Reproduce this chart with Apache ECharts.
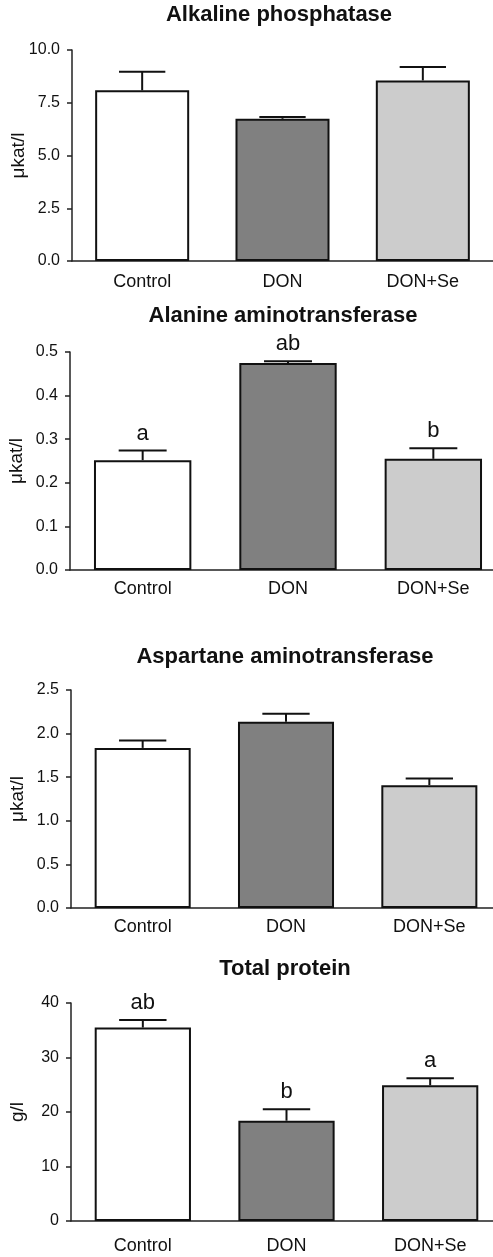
<!DOCTYPE html>
<html>
<head>
<meta charset="utf-8">
<script src="https://cdn.jsdelivr.net/npm/echarts@6/dist/echarts.min.js"></script>
<style>
html,body{margin:0;padding:0;background:#fff;}
#chart{width:493px;height:1257px;}
</style>
</head>
<body>
<div id="chart"></div>
<script>
var categories = ['Control', 'DON', 'DON+Se'];
var barColors = ['#ffffff', '#808080', '#cccccc'];

var titles = ['Alkaline phosphatase', 'Alanine aminotransferase', 'Aspartane aminotransferase', 'Total protein'];
var yNames = ['\u03bckat/l', '\u03bckat/l', '\u03bckat/l', 'g/l'];

var alpMean = [8.09, 6.74, 8.56];
var alpErr = [0.88, 0.08, 0.63];
var altMean = [0.252, 0.475, 0.255];
var altErr = [0.022, 0.004, 0.024];
var astMean = [1.836, 2.137, 1.409];
var astErr = [0.085, 0.09, 0.077];
var tpMean = [35.5, 18.4, 24.9];
var tpErr = [1.4, 2.1, 1.3];

var alpLetters = ['', '', ''];
var altLetters = ['a', 'ab', 'b'];
var astLetters = ['', '', ''];
var tpLetters = ['ab', 'b', 'a'];

var yMax = [10, 0.5, 2.5, 40];
var yInterval = [2.5, 0.1, 0.5, 10];
var yDecimals = [1, 1, 1, 0];

var means = [alpMean, altMean, astMean, tpMean];
var errs = [alpErr, altErr, astErr, tpErr];
var letters = [alpLetters, altLetters, astLetters, tpLetters];

// layout
var grids = [
  {left: 72, top: 50, width: 421, height: 211, outerBoundsMode: 'none', containLabel: false},
  {left: 70, top: 352, width: 436, height: 218, outerBoundsMode: 'none', containLabel: false},
  {left: 71, top: 690, width: 430, height: 218, outerBoundsMode: 'none', containLabel: false},
  {left: 71, top: 1003, width: 431, height: 218, outerBoundsMode: 'none', containLabel: false}
];
var xLabelMargin = [12, 10, 10, 16];
var titlePos = [[279, 15], [283, 316], [285, 657], [285, 969]];

var FONT = '"Liberation Sans", Arial, Helvetica, sans-serif';

var chart = echarts.init(document.getElementById('chart'), null, {renderer: 'canvas'});

var xAxes = [], yAxes = [], series = [], graphics = [];
for (var i = 0; i < 4; i++) {
  (function (i) {
    xAxes.push({
      type: 'category', gridIndex: i, data: categories,
      axisLine: {lineStyle: {color: '#222', width: 1.5}},
      axisTick: {alignWithLabel: true, length: 5, lineStyle: {color: '#222', width: 1.5}},
      axisLabel: {color: '#111', fontSize: 18, fontFamily: FONT, margin: xLabelMargin[i]}
    });
    yAxes.push({
      type: 'value', gridIndex: i, min: 0, max: yMax[i], interval: yInterval[i],
      name: yNames[i], nameLocation: 'middle', nameGap: 44, nameRotate: 90,
      nameMoveOverlap: false,
      nameTextStyle: {color: '#111', fontSize: 19, fontFamily: FONT},
      axisLine: {show: true, lineStyle: {color: '#222', width: 1.5}},
      axisTick: {show: true, length: 5, lineStyle: {color: '#222', width: 1.5}},
      splitLine: {show: false},
      axisLabel: {color: '#111', fontSize: 16, fontFamily: FONT, margin: 12,
        formatter: function (v) { return v.toFixed(yDecimals[i]); }}
    });
    series.push({
      type: 'bar', xAxisIndex: i, yAxisIndex: i, barWidth: '67%',
      data: means[i].map(function (v, k) {
        return {value: v, itemStyle: {color: barColors[k]}};
      }),
      itemStyle: {borderColor: '#111', borderWidth: 2},
      emphasis: {disabled: true},
      animation: false
    });
    series.push({
      type: 'custom', xAxisIndex: i, yAxisIndex: i, z: 5,
      data: means[i].map(function (v, k) { return [k, v, errs[i][k]]; }),
      renderItem: function (params, api) {
        var x = api.value(0), m = api.value(1), e = api.value(2);
        var p0 = api.coord([x, m]);
        var p1 = api.coord([x, m + e]);
        var half = api.size([1, 0])[0] * 0.165;
        var children = [
          {type: 'line', shape: {x1: p0[0], y1: p0[1], x2: p1[0], y2: p1[1]}, style: {stroke: '#111', lineWidth: 2}},
          {type: 'line', shape: {x1: p1[0] - half, y1: p1[1], x2: p1[0] + half, y2: p1[1]}, style: {stroke: '#111', lineWidth: 2}}
        ];
        var t = letters[i][params.dataIndex];
        if (t) {
          children.push({type: 'text', x: p1[0], y: p1[1] - 6,
            style: {text: t, align: 'center', verticalAlign: 'bottom', fontSize: 22, fontFamily: FONT, fill: '#111'}});
        }
        return {type: 'group', children: children};
      },
      animation: false
    });
    graphics.push({
      type: 'text', x: titlePos[i][0], y: titlePos[i][1],
      style: {text: titles[i], align: 'center', verticalAlign: 'middle', fontSize: 22, fontWeight: 'bold', fontFamily: FONT, fill: '#111'}
    });
  })(i);
}

chart.setOption({
  animation: false,
  backgroundColor: '#fff',
  grid: grids,
  xAxis: xAxes,
  yAxis: yAxes,
  series: series,
  graphic: graphics
});
</script>
</body>
</html>
